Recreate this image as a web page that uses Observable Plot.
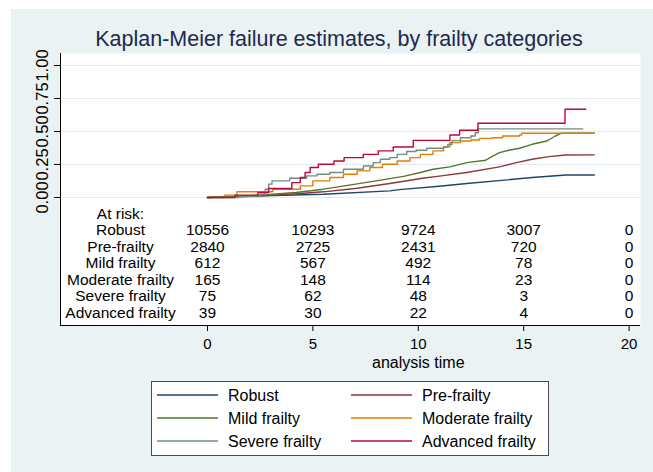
<!DOCTYPE html>
<html>
<head>
<meta charset="utf-8">
<script src="https://cdn.jsdelivr.net/npm/d3@7"></script>
<script src="https://cdn.jsdelivr.net/npm/@observablehq/plot@0.6"></script>
<style>
  body { margin:0; background:#ffffff; font-family:"Liberation Sans", Arial, Helvetica, sans-serif; }
  #bg { position:absolute; left:11px; top:9px; width:642px; height:463px; background:#eaf2f3; }
  #title { position:absolute; left:39px; top:26px; width:600px; text-align:center; font-size:21.5px; line-height:26px; color:#1c2a4e; white-space:nowrap; }
  #chart { position:absolute; left:0; top:53px; }
  #legend { position:absolute; left:151px; top:381px; width:398px; height:75px; box-sizing:border-box; border:1px solid #4a4a4a; background:#ffffff; }
  #legend svg { position:absolute; left:0; top:0; }
</style>
</head>
<body>
<div id="bg"></div>
<div id="title"></div>
<div id="chart"></div>
<div id="legend"></div>
<script>
const titleText = "Kaplan-Meier failure estimates, by frailty categories";
const groups = ["Robust", "Pre-frailty", "Mild frailty", "Moderate frailty", "Severe frailty", "Advanced frailty"];
const colors = ["#1a476f", "#90353b", "#55752f", "#e37e00", "#6e8e84", "#c10534"];
const stepped = [false, false, false, true, true, true];

// Kaplan-Meier failure estimates (time, failure)
const robustT = [0, 2, 5.5, 8.65, 9.1, 11.0, 12.3, 15.4, 17.0, 18.35];
const robustF = [0, 0.01, 0.025, 0.05, 0.06, 0.085, 0.106, 0.151, 0.17, 0.17];
const preT = [0, 2, 3.9, 5.5, 7.1, 8.65, 10.2, 11.0, 12.3, 13.85, 14.6, 15.4, 16.2, 17.0, 18.35];
const preF = [0, 0.01, 0.025, 0.043, 0.07, 0.106, 0.146, 0.162, 0.189, 0.232, 0.262, 0.29, 0.31, 0.322, 0.323];
const mildT = [0, 2.0, 3.1, 4.2, 5.5, 6.8, 8.0, 9.3, 10.1, 10.7, 11.5, 12.3, 13.2, 13.4, 13.85, 14.3, 14.8, 15.4, 16.1, 16.5, 16.8, 18.35];
const mildF = [0, 0.013, 0.025, 0.038, 0.063, 0.096, 0.126, 0.16, 0.189, 0.214, 0.232, 0.264, 0.282, 0.302, 0.34, 0.358, 0.373, 0.403, 0.428, 0.466, 0.487, 0.487];
const modT = [0, 0.8, 1.4, 3.1, 4.4, 5.0, 5.8, 6.45, 7.1, 7.7, 8.3, 9.0, 9.6, 10.1, 10.7, 11.2, 11.5, 12.0, 12.5, 12.9, 13.5, 14.0, 14.8, 14.9, 18.35];
const modF = [0, 0.018, 0.043, 0.063, 0.088, 0.126, 0.151, 0.176, 0.202, 0.227, 0.252, 0.277, 0.302, 0.327, 0.353, 0.385, 0.416, 0.428, 0.436, 0.448, 0.453, 0.466, 0.473, 0.487, 0.487];
const sevT = [0, 1.5, 2.5, 2.74, 2.9, 3.06, 3.9, 4.7, 5.2, 5.8, 6.45, 7.4, 7.86, 8.2, 8.65, 9.0, 9.45, 9.9, 10.4, 11.2, 11.4, 11.6, 12.0, 12.5, 12.7, 12.85, 17.8];
const sevF = [0, 0.008, 0.025, 0.063, 0.101, 0.126, 0.146, 0.164, 0.176, 0.189, 0.214, 0.239, 0.264, 0.29, 0.302, 0.327, 0.348, 0.358, 0.373, 0.383, 0.401, 0.431, 0.453, 0.466, 0.491, 0.52, 0.52];
const advT = [0, 1.3, 2.4, 2.9, 4.0, 4.4, 4.63, 4.87, 5.26, 6.0, 6.48, 7.39, 8.1, 8.81, 9.76, 11.5, 11.96, 12.83, 16.96, 17.95];
const advF = [0, 0.018, 0.038, 0.068, 0.113, 0.151, 0.189, 0.227, 0.252, 0.277, 0.302, 0.327, 0.353, 0.383, 0.433, 0.474, 0.509, 0.562, 0.668, 0.668];

// Number at risk
const riskHeader = "At risk:";
const riskTimes = [0, 5, 10, 15, 20];
const robustRisk = [10556, 10293, 9724, 3007, 0];
const preRisk = [2840, 2725, 2431, 720, 0];
const mildRisk = [612, 567, 492, 78, 0];
const modRisk = [165, 148, 114, 23, 0];
const sevRisk = [75, 62, 48, 3, 0];
const advRisk = [39, 30, 22, 4, 0];

const xTicks = [0, 5, 10, 15, 20];
const yTicks = [0, 0.25, 0.5, 0.75, 1];
const xLabel = "analysis time";

const seriesT = [robustT, preT, mildT, modT, sevT, advT];
const seriesF = [robustF, preF, mildF, modF, sevF, advF];
const risks = [robustRisk, preRisk, mildRisk, modRisk, sevRisk, advRisk];

const curves = groups.map((g, i) => ({
  name: g, color: colors[i], step: stepped[i],
  pts: seriesT[i].map((t, j) => ({t, f: seriesF[i][j]}))
}));

// scale domains (extended below zero to hold the risk table)
const xDomain = [-6.973, 20.541];
const yDomain = [-0.9697, 1.0909];
const rowY = k => -0.125 * (k + 1);
const labelX = -4.127;

const riskCells = [];
risks.forEach((arr, i) => arr.forEach((n, j) => riskCells.push({t: riskTimes[j], y: rowY(i + 1), n})));
const rowLabels = [{text: riskHeader, y: rowY(0)}].concat(groups.map((g, i) => ({text: g, y: rowY(i + 1)})));

const lineMarks = curves.map(c => Plot.line(c.pts, {
  x: "t", y: "f", stroke: c.color, strokeWidth: 1.4,
  curve: c.step ? "step-after" : "linear"
}));

const chart = Plot.plot({
  width: 653, height: 322,
  marginTop: 0, marginBottom: 50, marginLeft: 60, marginRight: 13,
  style: {background: "transparent", color: "#000", fontFamily: "'Liberation Sans', Arial, Helvetica, sans-serif", overflow: "visible"},
  x: {domain: xDomain},
  y: {domain: yDomain},
  marks: [
    Plot.frame({fill: "white"}),
    Plot.ruleY(yTicks, {stroke: "#e3ebee", strokeWidth: 1}),
    Plot.axisY({ticks: yTicks, tickFormat: d => d.toFixed(2), tickRotate: -90, tickSize: 6, tickPadding: 7, fontSize: 16.5, label: null}),
    Plot.axisX({ticks: xTicks, tickSize: 6, tickPadding: 7, fontSize: 15, label: null}),
    Plot.ruleX([xDomain[0]], {stroke: "#000", strokeWidth: 1}),
    Plot.ruleY([yDomain[0]], {stroke: "#000", strokeWidth: 1}),
    ...lineMarks,
    Plot.text(rowLabels, {x: () => labelX, y: "y", text: "text", fontSize: 15.5, textAnchor: "middle", fill: "#000"}),
    Plot.text(riskCells, {x: "t", y: "y", text: d => String(d.n), fontSize: 15.5, textAnchor: "middle", fill: "#000"}),
    Plot.text([xLabel], {x: () => (xTicks[0] + xTicks[xTicks.length - 1]) / 2, y: () => yDomain[0], text: d => d, dy: 37, fontSize: 16, textAnchor: "middle", fill: "#000"})
  ]
});
document.getElementById("chart").appendChild(chart);
document.getElementById("title").textContent = titleText;

// legend (SVG inside the bordered box)
const rowTop = [14, 37, 60];
const svgL = d3.select("#legend").append("svg").attr("width", 396).attr("height", 73);
groups.forEach((g, i) => {
  const col = i % 2, row = Math.floor(i / 2);
  const x0 = col ? 199 : 5;
  const yy = rowTop[row] - 1;
  svgL.append("line")
    .attr("x1", x0).attr("x2", x0 + 61)
    .attr("y1", yy).attr("y2", yy)
    .attr("stroke", colors[i]).attr("stroke-width", 1.4);
  svgL.append("text")
    .attr("x", col ? 270 : 76).attr("y", yy)
    .attr("dy", "0.36em")
    .attr("font-size", 16)
    .attr("font-family", "'Liberation Sans', Arial, Helvetica, sans-serif")
    .attr("fill", "#000")
    .text(g);
});
</script>
</body>
</html>
